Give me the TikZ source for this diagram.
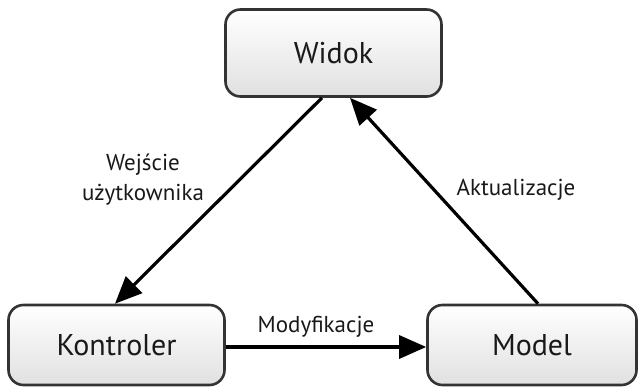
\documentclass[tikz,border=0pt]{standalone}
\usepackage{fontspec}
\setmainfont{PT Sans}
\usepackage{tikz}
\usetikzlibrary{arrows.meta, shadings}

\tikzset{
	mvcbox/.style={draw=black!80, line width=2.6pt, rounded corners=15pt,
		top color=white, bottom color=black!12, text=black!90,
		font=\fontsize{30}{34}\selectfont, inner sep=0pt},
	flow/.style={line width=3.2pt, -{Triangle[length=27pt,width=23pt]}},
	lbl/.style={text=black!90, font=\fontsize{23}{30}\selectfont, align=center}
}

\begin{document}
\begin{tikzpicture}[x=1pt,y=-1pt]
	\useasboundingbox (0,0) rectangle (638,387);
	\node[mvcbox, minimum width=216pt, minimum height=87pt] (widok) at (333.5,53) {Widok};
	\node[mvcbox, minimum width=216pt, minimum height=80pt] (kontroler) at (116.5,345) {Kontroler};
	\node[mvcbox, minimum width=209pt, minimum height=80pt] (model) at (532,345) {Model};
	\draw[flow] ([xshift=-11.5pt]widok.south) -- ([xshift=-1.5pt]kontroler.north);
	\draw[flow] ([xshift=6pt]model.north) -- ([xshift=16.5pt]widok.south);
	\draw[flow] ([yshift=-2pt]kontroler.east) -- ([yshift=-2pt]model.west);
	\node[lbl] (wejscie) at (143,180) {Wejście\\użytkownika};
	\node[lbl] (aktual) at (516,190) {Aktualizacje};
	\node[lbl] (modyf) at (316,327) {Modyfikacje};
\end{tikzpicture}
\end{document}
